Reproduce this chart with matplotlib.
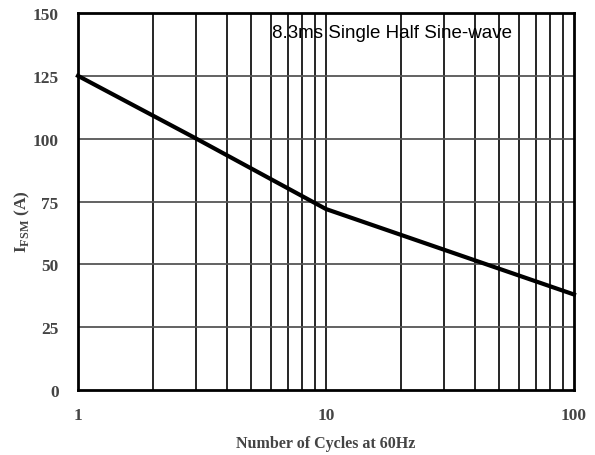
import matplotlib
matplotlib.use("Agg")
import matplotlib.pyplot as plt
from matplotlib.ticker import FixedLocator, NullFormatter

plt.rcParams["mathtext.fontset"] = "custom"
plt.rcParams["mathtext.rm"] = "Liberation Serif:bold"
plt.rcParams["mathtext.bf"] = "Liberation Serif:bold"

cycles = [1, 3, 10, 100]
ifsm = [125, 100, 72, 38]
x_ticks = [1, 10, 100]
x_tick_labels = ["1", "10", "100"]
y_ticks = [0, 25, 50, 75, 100, 125, 150]
annotation = "8.3ms Single Half Sine-wave"

fig = plt.figure(figsize=(5.95, 4.56), dpi=100)
ax = fig.add_axes([0.1311, 0.1425, 0.8336, 0.8268])
ax.set_xscale("log")
ax.set_xlim(1, 100)
ax.set_ylim(0, 150)

minors = [m * d for d in (1, 10) for m in range(2, 10)]
for xv in minors + [10]:
    ax.axvline(xv, color="black", lw=1.2, zorder=1)
for yv in y_ticks[1:-1]:
    ax.axhline(yv, color="#555555", lw=1.3, zorder=1)

ax.plot(cycles, ifsm, color="black", lw=3, zorder=3, clip_on=False)

ax.xaxis.set_major_locator(FixedLocator(x_ticks))
ax.set_xticklabels(x_tick_labels)
ax.xaxis.set_minor_locator(FixedLocator(minors))
ax.xaxis.set_minor_formatter(NullFormatter())
ax.set_yticks(y_ticks)
ax.tick_params(which="both", length=0)
ax.tick_params(axis="x", pad=12)
ax.tick_params(axis="y", pad=14)
for lab in ax.get_xticklabels() + ax.get_yticklabels():
    lab.set_fontfamily("Liberation Serif")
    lab.set_fontweight("bold")
    lab.set_fontsize(12.5)
    lab.set_color("#444444")

for s in ax.spines.values():
    s.set_linewidth(2)
    s.set_color("black")
    s.set_zorder(4)

ax.set_xlabel("Number of Cycles at 60Hz", fontfamily="Liberation Serif",
              fontweight="bold", fontsize=11.5, color="#444444", labelpad=9)
ax.set_ylabel(r"I$_{\mathrm{FSM}}$ (A)", fontfamily="Liberation Serif",
              fontweight="bold", fontsize=12.5, color="#444444")
ax.yaxis.set_label_coords(-0.093, 0.45)

ax.text(18.4, 142.4, annotation, fontfamily="Liberation Sans", fontsize=13.5,
        color="black", ha="center", va="center", zorder=5)

fig.savefig("out.png", dpi=100)
